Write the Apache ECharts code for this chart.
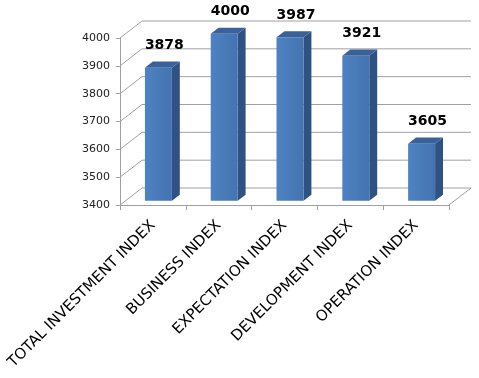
<!DOCTYPE html>
<html>
<head>
<meta charset="utf-8">
<script src="https://cdn.jsdelivr.net/npm/echarts@6/dist/echarts.min.js"></script>
<style>
html,body{margin:0;padding:0;background:#fff;}
#chart{width:479px;height:378px;}
</style>
</head>
<body>
<div id="chart"></div>
<script>
var categories = ['TOTAL INVESTMENT INDEX', 'BUSINESS INDEX', 'EXPECTATION INDEX', 'DEVELOPMENT INDEX', 'OPERATION INDEX'];
var values = [3878, 4000, 3987, 3921, 3605];
var yTicks = [3400, 3500, 3600, 3700, 3800, 3900, 4000];

var DEPTH_X = 22, DEPTH_Y = -17;      // full depth of the 3D box
var BAR_F0 = 0.25, BAR_DF = 0.36;      // bar start depth and depth fraction
var BAR_W = 0.41;                      // bar width as share of the band
var GRID_COLOR = '#a0a0a0';

var chart = echarts.init(document.getElementById('chart'));

function wallItem(params, api) {
  var cs = params.coordSys;
  var v = api.value(0);
  var y = api.coord([0, v])[1];
  var x0 = cs.x, x1 = cs.x + cs.width;
  var children = [{
    type: 'polyline',
    shape: { points: [[x0, y], [x0 + DEPTH_X, y + DEPTH_Y], [x1 + DEPTH_X, y + DEPTH_Y]] },
    style: { stroke: GRID_COLOR, lineWidth: 1, fill: null }
  }];
  if (params.dataIndex === 0) {
    children.push({
      type: 'line',
      shape: { x1: x1, y1: y, x2: x1 + DEPTH_X, y2: y + DEPTH_Y },
      style: { stroke: GRID_COLOR, lineWidth: 1 }
    });
  }
  return { type: 'group', children: children };
}

function barItem(params, api) {
  var i = api.value(0), v = api.value(1);
  var base = api.coord([i, yTicks[0]]);
  var top = api.coord([i, v]);
  var band = api.size([1, 0])[0];
  var w = band * BAR_W;
  var ox = DEPTH_X * BAR_F0, oy = DEPTH_Y * BAR_F0;
  var dx = DEPTH_X * BAR_DF, dy = DEPTH_Y * BAR_DF;
  var xl = base[0] - w / 2 + ox, xr = base[0] + w / 2 + ox;
  var yt = top[1] + oy, yb = base[1] + oy;
  return {
    type: 'group',
    children: [
      {
        type: 'polygon',
        shape: { points: [[xr, yt], [xr + dx, yt + dy], [xr + dx, yb + dy], [xr, yb]] },
        style: { fill: '#2e5283' }
      },
      {
        type: 'polygon',
        shape: { points: [[xl, yt], [xl + dx, yt + dy], [xr + dx, yt + dy], [xr, yt]] },
        style: { fill: '#3a6199' }
      },
      {
        type: 'rect',
        shape: { x: xl, y: yt, width: xr - xl, height: yb - yt },
        style: {
          fill: new echarts.graphic.LinearGradient(0, 0, 1, 0, [
            { offset: 0, color: '#4e82c2' },
            { offset: 1, color: '#4473b0' }
          ])
        }
      },
      {
        type: 'text',
        x: (xl + xr + dx) / 2 + 2,
        y: yt + dy - 9,
        style: {
          text: String(v),
          font: 'bold 14px "DejaVu Sans"',
          fill: '#000',
          align: 'center',
          verticalAlign: 'bottom'
        }
      }
    ]
  };
}

chart.setOption({
  animation: false,
  grid: { left: 120, right: 30, top: 38, bottom: 173, containLabel: false },
  xAxis: {
    type: 'category',
    data: categories,
    boundaryGap: true,
    axisLine: { show: true, lineStyle: { color: GRID_COLOR, width: 1 } },
    axisTick: { show: true, inside: false, length: 5, lineStyle: { color: GRID_COLOR } },
    axisLabel: {
      interval: 0,
      rotate: 45,
      margin: 18,
      color: '#000',
      fontFamily: 'DejaVu Sans',
      fontSize: 15
    },
    splitLine: { show: false }
  },
  yAxis: {
    type: 'value',
    min: 3400,
    max: 4000,
    interval: 100,
    axisLine: { show: true, lineStyle: { color: GRID_COLOR, width: 1 } },
    axisTick: { show: true, inside: false, length: 4, lineStyle: { color: GRID_COLOR } },
    axisLabel: {
      color: '#222', fontFamily: 'DejaVu Sans', fontSize: 11, margin: 10,
      formatter: function (v) { return String(v); }
    },
    splitLine: { show: false }
  },
  series: [
    {
      type: 'custom',
      z: 1,
      data: yTicks.map(function (t) { return [t]; }),
      encode: { y: 0 },
      renderItem: wallItem,
      silent: true
    },
    {
      type: 'custom',
      z: 2,
      data: values.map(function (v, i) { return [i, v]; }),
      encode: { x: 0, y: 1 },
      renderItem: barItem
    }
  ]
});
</script>
</body>
</html>
